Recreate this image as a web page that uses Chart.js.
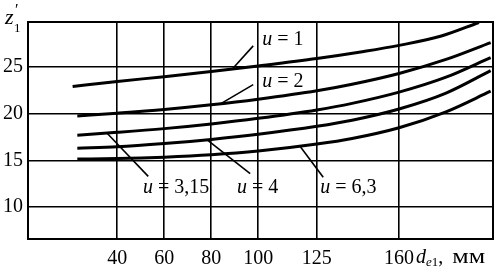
<!DOCTYPE html>
<html>
<head>
<meta charset="utf-8">
<script src="https://cdn.jsdelivr.net/npm/chart.js@4"></script>
<style>
  body { margin: 0; background: #fff; }
  #wrap { width: 503px; height: 270px; }
</style>
</head>
<body>
<div id="wrap"><canvas id="chart"></canvas></div>
<script>
// axis ticks
const xTicks = [40, 60, 80, 100, 125, 160];
const yTicks = [10, 15, 20, 25];

// curves z1' vs d_e1, one pair of arrays per gear ratio u
const d_u1 = [21, 40, 60, 80, 100, 125, 145, 160, 178, 194];
const z_u1 = [22.9, 23.45, 23.95, 24.5, 25.1, 25.9, 26.65, 27.3, 28.3, 29.75];

const d_u2 = [23, 40, 60, 80, 100, 125, 140, 160, 180, 199];
const z_u2 = [19.75, 20.05, 20.45, 20.95, 21.55, 22.45, 23.15, 24.3, 25.8, 27.6];

const d_u315 = [23, 40, 60, 80, 100, 125, 140, 160, 180, 199];
const z_u315 = [17.7, 18.0, 18.4, 18.9, 19.5, 20.4, 21.1, 22.3, 23.9, 26.0];

const d_u4 = [23, 40, 60, 80, 100, 125, 140, 160, 180, 199];
const z_u4 = [16.3, 16.45, 16.8, 17.25, 17.8, 18.65, 19.3, 20.5, 22.2, 24.6];

const d_u63 = [23, 40, 60, 80, 100, 125, 140, 160, 180, 199];
const z_u63 = [15.15, 15.2, 15.35, 15.6, 16.0, 16.75, 17.35, 18.5, 20.2, 22.4];

const curveNames = ["1", "2", "3,15", "4", "6,3"];

function pts(ds, zs) {
  return ds.map((d, i) => ({ x: d, y: zs[i] }));
}

// label text position and leader line (from, to) in data units
const labelSpots = [
  { text: "1",    at: [101.7, 27.9], from: [97.9, 27.25], to: [88.9, 24.75] },
  { text: "2",    at: [101.7, 23.4], from: [97.9, 23.1],  to: [84.3, 21.1] },
  { text: "3,15", at: [51.0, 12.1],  from: [53.2, 13.3],  to: [35.7, 17.9] },
  { text: "4",    at: [91.0, 12.1],  from: [96.6, 13.6],  to: [78.3, 17.2] },
  { text: "6,3",  at: [126.4, 12.1], from: [127.7, 13.2], to: [117.9, 16.5] }
];

const SERIF = "'Liberation Serif', 'DejaVu Serif', serif";

const overlay = {
  id: "overlay",
  afterDatasetsDraw(chart) {
    const { ctx, chartArea: a, scales: { x, y } } = chart;
    ctx.save();
    // frame
    ctx.strokeStyle = "#000";
    ctx.lineWidth = 2;
    ctx.strokeRect(a.left, a.top, a.right - a.left, a.bottom - a.top);

    // leaders and u labels
    ctx.lineWidth = 1.6;
    ctx.fillStyle = "#000";
    ctx.textBaseline = "middle";
    labelSpots.forEach(l => {
      ctx.beginPath();
      ctx.moveTo(x.getPixelForValue(l.from[0]), y.getPixelForValue(l.from[1]));
      ctx.lineTo(x.getPixelForValue(l.to[0]), y.getPixelForValue(l.to[1]));
      ctx.stroke();
      let px = x.getPixelForValue(l.at[0]);
      const py = y.getPixelForValue(l.at[1]);
      ctx.font = "italic 20px " + SERIF;
      ctx.fillText("u", px, py);
      px += ctx.measureText("u").width;
      ctx.font = "20px " + SERIF;
      ctx.fillText(" = " + l.text, px, py);
    });

    // axis titles
    ctx.textBaseline = "alphabetic";
    ctx.font = "italic 22px " + SERIF;
    ctx.fillText("z", 5, 24);
    ctx.font = "13px " + SERIF;
    ctx.fillText("1", 14, 32);
    ctx.font = "16px " + SERIF;
    ctx.fillText("\u2032", 15, 15);

    let tx = 416;
    ctx.font = "italic 20px " + SERIF;
    ctx.fillText("d", tx, 263);
    tx += ctx.measureText("d").width;
    ctx.font = "italic 13px " + SERIF;
    ctx.fillText("e", tx, 266);
    tx += ctx.measureText("e").width;
    ctx.font = "13px " + SERIF;
    ctx.fillText("1", tx, 266);
    tx += ctx.measureText("1").width;
    ctx.font = "20px " + SERIF;
    ctx.fillText(",", tx, 263);
    tx += ctx.measureText(", ").width + 4;
    // wide "мм" like the reference typeface
    ctx.save();
    ctx.translate(tx, 263);
    ctx.scale(1.3, 1.05);
    ctx.font = "20px " + SERIF;
    ctx.fillText("\u043c\u043c", 0, 0);
    ctx.restore();
    ctx.restore();
  }
};

new Chart(document.getElementById("chart"), {
  type: "line",
  data: {
    datasets: [
      pts(d_u1, z_u1), pts(d_u2, z_u2), pts(d_u315, z_u315),
      pts(d_u4, z_u4), pts(d_u63, z_u63)
    ].map((data, i) => ({
      label: "u = " + curveNames[i],
      data: data,
      borderColor: "#000",
      borderWidth: 3,
      pointRadius: 0,
      fill: false,
      cubicInterpolationMode: "monotone"
    }))
  },
  options: {
    responsive: true,
    maintainAspectRatio: false,
    animation: false,
    layout: { padding: { top: 22, right: 10, left: 0, bottom: 0 } },
    plugins: {
      legend: { display: false },
      tooltip: { enabled: false }
    },
    scales: {
      x: {
        type: "linear",
        min: 2,
        max: 200,
        afterBuildTicks: s => { s.ticks = xTicks.map(v => ({ value: v })); },
        afterFit: s => { s.height = 31; },
        grid: { color: "#000", lineWidth: 1.6, drawTicks: false },
        border: { display: false },
        ticks: {
          color: "#000",
          padding: 8,
          maxRotation: 0,
          autoSkip: false,
          font: { family: SERIF, size: 20 }
        }
      },
      y: {
        min: 6.6,
        max: 29.8,
        afterBuildTicks: s => { s.ticks = yTicks.map(v => ({ value: v })); },
        afterFit: s => { s.width = 28; },
        grid: { color: "#000", lineWidth: 1.6, drawTicks: false },
        border: { display: false },
        ticks: {
          color: "#000",
          padding: 5,
          font: { family: SERIF, size: 20 }
        }
      }
    }
  },
  plugins: [overlay]
});
</script>
</body>
</html>
